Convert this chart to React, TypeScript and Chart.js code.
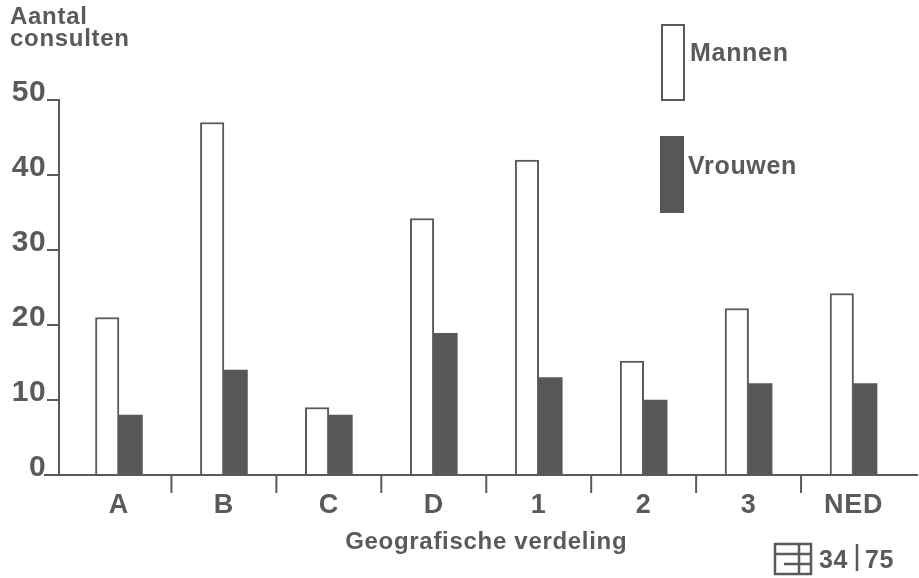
import React, { useEffect, useRef } from "react";
import { Chart, registerables } from "chart.js";

Chart.register(...registerables);

const categories = ["A", "B", "C", "D", "1", "2", "3", "NED"];
const mannen = [21, 47, 9, 34.2, 42, 15.2, 22.2, 24.2];
const vrouwen = [8, 14, 8, 18.9, 13, 10, 12.2, 12.2];
const yTitleLines = ["Aantal", "consulten"];
const xTitle = "Geografische verdeling";
const footerLeft = "34";
const footerRight = "75";

const INK = "#5a5a5a";
const DARK = "#555855";
const FONT = "'Liberation Sans', Arial, sans-serif";

const decorPlugin = {
  id: "decor",
  beforeDraw(chart: any) {
    chart.ctx.letterSpacing = "0.7px";
  },
  afterDraw(chart: any) {
    const { ctx, scales } = chart;
    const x = scales.x;
    const y = scales.y;
    const y0 = y.getPixelForValue(0);
    const y50 = y.getPixelForValue(50);
    const axisX = x.left - 7.5;
    ctx.save();
    ctx.strokeStyle = INK;
    ctx.lineWidth = 2;
    ctx.beginPath();
    ctx.moveTo(axisX, y50 - 1);
    ctx.lineTo(axisX, y0);
    ctx.stroke();
    y.ticks.forEach((t: any) => {
      const py = y.getPixelForValue(t.value);
      ctx.beginPath();
      ctx.moveTo(axisX - 12, py);
      ctx.lineTo(axisX, py);
      ctx.stroke();
    });
    ctx.beginPath();
    ctx.moveTo(44, y0);
    ctx.lineTo(918, y0);
    ctx.stroke();
    const step = x.getPixelForValue(1) - x.getPixelForValue(0);
    for (let i = 0; i < categories.length - 1; i++) {
      const px = x.getPixelForValue(i) + step / 2;
      ctx.beginPath();
      ctx.moveTo(px, y0);
      ctx.lineTo(px, y0 + 18);
      ctx.stroke();
    }

    ctx.fillStyle = INK;
    ctx.textBaseline = "alphabetic";
    ctx.textAlign = "left";
    ctx.font = `bold 24px ${FONT}`;
    ctx.fillText(yTitleLines[0], 10, 24);
    ctx.fillText(yTitleLines[1], 10, 46);

    // legend
    const ds = chart.data.datasets;
    ctx.lineWidth = 2;
    ctx.fillStyle = ds[0].backgroundColor;
    ctx.strokeStyle = ds[0].borderColor;
    ctx.fillRect(662, 25, 22, 75);
    ctx.strokeRect(662, 25, 22, 75);
    ctx.fillStyle = ds[1].backgroundColor;
    ctx.fillRect(660, 136, 24, 77);
    ctx.fillStyle = INK;
    ctx.font = `bold 25px ${FONT}`;
    ctx.textBaseline = "middle";
    ctx.fillText(ds[0].label, 690, 54);
    ctx.fillText(ds[1].label, 688, 167);

    // footer
    ctx.strokeStyle = INK;
    ctx.lineWidth = 2.5;
    ctx.strokeRect(775, 544, 36, 30);
    ctx.beginPath();
    ctx.moveTo(775, 554); ctx.lineTo(811, 554);
    ctx.moveTo(784, 564); ctx.lineTo(811, 564);
    ctx.moveTo(799, 544); ctx.lineTo(799, 574);
    ctx.stroke();
    ctx.font = `bold 25px ${FONT}`;
    ctx.textBaseline = "alphabetic";
    ctx.fillText(footerLeft, 819, 568);
    ctx.fillText(footerRight, 865, 568);
    ctx.beginPath();
    ctx.lineWidth = 2.5;
    ctx.moveTo(857, 544); ctx.lineTo(857, 571);
    ctx.stroke();
    ctx.restore();
  },
};

export default function App() {
  const ref = useRef<HTMLCanvasElement | null>(null);
  useEffect(() => {
    const chart = new Chart(ref.current as HTMLCanvasElement, {
      type: "bar",
      data: {
        labels: categories,
        datasets: [
          { label: "Mannen", data: mannen, backgroundColor: "#ffffff", borderColor: INK, borderWidth: 2, barThickness: 23.5 },
          { label: "Vrouwen", data: vrouwen, backgroundColor: DARK, borderColor: DARK, borderWidth: 0, barThickness: 23.5 },
        ],
      },
      options: {
        responsive: false,
        animation: false,
        layout: { padding: { top: 100, right: 13, left: 0, bottom: 0 } },
        plugins: { legend: { display: false }, tooltip: { enabled: false }, title: { display: false } },
        scales: {
          x: {
            grid: { display: false },
            border: { display: false },
            ticks: {
              color: INK,
              font: { family: FONT, size: 27, weight: "bold" },
              padding: 6,
              maxRotation: 0,
              autoSkip: false,
            },
            title: {
              display: true,
              text: xTitle,
              color: INK,
              font: { family: FONT, size: 24, weight: "bold" },
              padding: { top: 0, bottom: 21 },
            },
            afterFit(scale: any) {
              scale.height = 103;
            },
          },
          y: {
            min: 0,
            max: 50,
            grid: { display: false, drawTicks: false },
            border: { display: false },
            ticks: {
              stepSize: 10,
              color: INK,
              font: { family: FONT, size: 30, weight: "bold" },
              padding: 20,
              labelOffset: -7,
            },
            afterFit(scale: any) {
              scale.width = 66.5;
            },
          },
        },
      } as any,
      plugins: [decorPlugin],
    });
    return () => chart.destroy();
  }, []);
  return (
    <div style={{ position: "absolute", left: 0, top: 0 }}>
      <canvas ref={ref} width={919} height={578} style={{ display: "block" }} />
    </div>
  );
}
